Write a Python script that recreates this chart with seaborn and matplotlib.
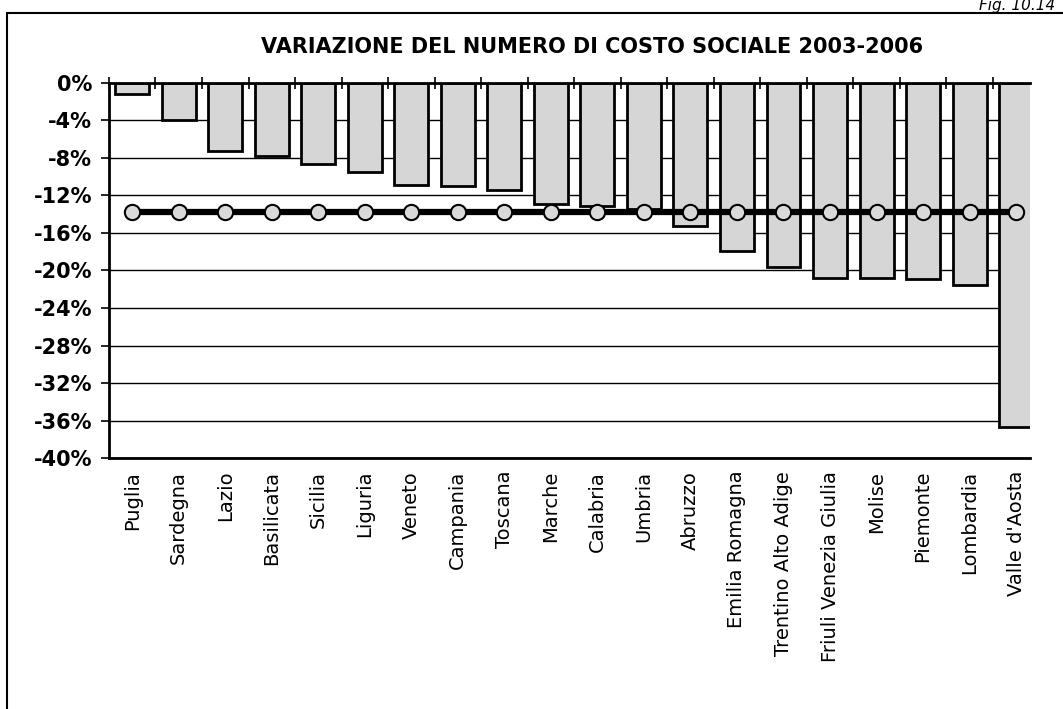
import matplotlib
matplotlib.use("Agg")
import matplotlib.pyplot as plt
from matplotlib.patches import Rectangle
import seaborn as sns
import pandas as pd

# dati (variazione % 2003-2006)
regioni = ["Puglia", "Sardegna", "Lazio", "Basilicata", "Sicilia", "Liguria",
           "Veneto", "Campania", "Toscana", "Marche", "Calabria", "Umbria",
           "Abruzzo", "Emilia Romagna", "Trentino Alto Adige",
           "Friuli Venezia Giulia", "Molise", "Piemonte", "Lombardia",
           "Valle d'Aosta"]
variazione = [-1.2, -4.0, -7.3, -7.8, -8.7, -9.5, -10.9, -11.0, -11.4, -12.9,
              -13.1, -13.5, -15.3, -17.9, -19.6, -20.8, -20.8, -20.9, -21.5,
              -36.7]
media = -13.8
yticks = [0, -4, -8, -12, -16, -20, -24, -28, -32, -36, -40]

df = pd.DataFrame({"regione": regioni, "variazione": variazione})
df["media"] = media

sns.set_style("white")
plt.rcParams["font.family"] = ["DejaVu Sans"]
plt.rcParams["text.color"] = "black"
plt.rcParams["xtick.color"] = "black"
plt.rcParams["ytick.color"] = "black"

fig = plt.figure(figsize=(10.63, 7.09), dpi=100)
ax = fig.add_axes([0.1025, 0.3536, 0.8665, 0.5298])

sns.barplot(data=df, x="regione", y="variazione", color="#d6d6d6",
            saturation=1, edgecolor="black", linewidth=2, width=0.73,
            ax=ax, zorder=2)
sns.lineplot(data=df, x="regione", y="media", color="black", lw=4.5,
             marker="o", markersize=11, markerfacecolor="#d9d9d9",
             markeredgecolor="black", markeredgewidth=1.5, ax=ax, zorder=3)

ax.set_xlim(-0.5, 19.3)
ax.set_ylim(-40, 0)
ax.set_yticks(yticks)
ax.set_yticklabels([f"{t}%" for t in yticks], fontsize=15, fontweight="bold")
ax.set_xlabel("")
ax.set_ylabel("")
ax.set_xticks(range(len(regioni)))
ax.set_xticklabels(regioni, rotation=90, fontsize=14, va="top", ha="center")
ax.set_xticks([i - 0.5 for i in range(len(regioni))], minor=True)
ax.tick_params(axis="x", which="major", length=0, pad=9)
ax.tick_params(axis="x", which="minor", top=True, bottom=False,
               direction="inout", length=9, width=1.2, color="black")
ax.tick_params(axis="y", which="major", left=True, direction="out",
               length=6, width=1.2, color="black", pad=6)

ax.set_axisbelow(True)
ax.yaxis.grid(True, color="black", lw=1)
for side in ["left", "top", "bottom"]:
    ax.spines[side].set_color("black")
    ax.spines[side].set_linewidth(2)
ax.spines["right"].set_visible(False)

fig.text(0.557, 1 - 47 / 709, "VARIAZIONE DEL NUMERO DI COSTO SOCIALE 2003-2006",
         ha="center", va="center", fontsize=15, fontweight="bold")
fig.text(0.993, 1 - 10 / 709, "Fig. 10.14", ha="right", va="baseline",
         fontsize=11, style="italic")

# cornice della figura
fig.add_artist(Rectangle((7 / 1063, -0.05), 1.1, 1 - 13 / 709 + 0.05,
                         transform=fig.transFigure, fill=False,
                         edgecolor="black", lw=1.5))

fig.savefig("out.png", dpi=100)
